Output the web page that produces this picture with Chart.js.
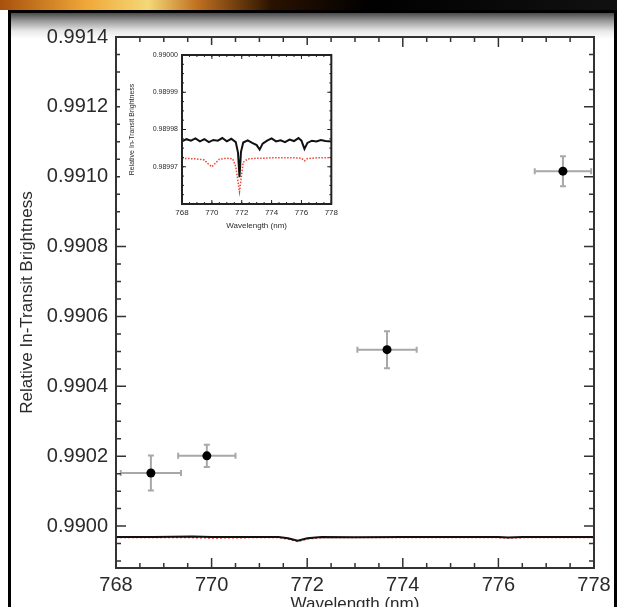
<!DOCTYPE html>
<html>
<head>
<meta charset="utf-8">
<script src="https://cdn.jsdelivr.net/npm/chart.js@4.4.1/dist/chart.umd.min.js"></script>
<style>
  html, body { margin: 0; padding: 0; width: 617px; height: 607px; overflow: hidden; background: #fff; }
  #banner { position: absolute; left: 0; top: 0; width: 617px; height: 10px;
    background: linear-gradient(90deg, #a8500c 0%, #f0a838 14%, #f4d878 24%, #c07020 32%, #2a1200 44%, #000 60%, #111 100%); }
  #frame { position: absolute; left: 8px; top: 10px; width: 603px; height: 620px; border: 3px solid #000;
    background: linear-gradient(180deg, #4a4a4a 0px, #9a9a9a 8px, #e8e8e8 18px, #fff 26px); }
  #main { position: absolute; left: 0; top: 0; }
  #inset { position: absolute; left: 120px; top: 45px; background: #fff; }
</style>
</head>
<body>
<div id="banner"></div>
<div id="frame"></div>
<canvas id="main" width="617" height="615"></canvas>
<canvas id="inset" width="222" height="186"></canvas>
<script>
// ============================================
// DATA - main panel
// ============================================
const xTickLabels = [768, 770, 772, 774, 776, 778];
const yTickLabels = [0.9900, 0.9902, 0.9904, 0.9906, 0.9908, 0.9910, 0.9912, 0.9914];

// observed in-transit brightness (binned)
const obsWave = [768.73, 769.90, 773.67, 777.35];
const obsWaveErr = [0.63, 0.60, 0.62, 0.59];
const obsFlux = [0.990152, 0.990201, 0.990505, 0.991016];
const obsFluxErr = [0.000050, 0.000032, 0.000053, 0.000043];

// model curves as seen on the main scale
const modelWave = [768.0, 768.8, 769.6, 770.0, 770.8, 771.4, 771.6, 771.8, 772.0, 772.3, 773.0, 774.0, 775.0, 776.0, 776.2, 776.5, 777.2, 778.0];
const modelBlack = [0.989969, 0.989969, 0.989970, 0.989969, 0.989969, 0.989969, 0.989965, 0.989958, 0.989965, 0.989969, 0.989968, 0.989969, 0.989969, 0.989969, 0.989967, 0.989969, 0.989969, 0.989969];
const modelRed = [0.989967, 0.989967, 0.989967, 0.989966, 0.989967, 0.989967, 0.989963, 0.989956, 0.989963, 0.989967, 0.989967, 0.989967, 0.989967, 0.989967, 0.989966, 0.989967, 0.989967, 0.989967];

// ============================================
// DATA - inset
// ============================================
const insetXTickLabels = [768, 770, 772, 774, 776, 778];
const insetYTickLabels = [0.98996, 0.98997, 0.98998, 0.98999, 0.99000];

const insetBlackWave = [768.0, 768.3, 768.6, 768.9, 769.2, 769.5, 769.8, 770.1, 770.4, 770.7, 771.0, 771.3, 771.6, 771.75, 771.85, 771.95, 772.1, 772.4, 772.7, 773.0, 773.2, 773.4, 773.7, 774.0, 774.3, 774.6, 774.9, 775.2, 775.5, 775.8, 776.0, 776.2, 776.4, 776.7, 777.0, 777.3, 777.6, 778.0];
const insetBlack = [0.9899768, 0.9899774, 0.9899770, 0.9899776, 0.9899768, 0.9899774, 0.9899766, 0.9899772, 0.9899770, 0.9899777, 0.9899768, 0.9899775, 0.9899766, 0.9899738, 0.9899672, 0.9899740, 0.9899765, 0.9899771, 0.9899764, 0.9899758, 0.9899746, 0.9899762, 0.9899770, 0.9899776, 0.9899768, 0.9899771, 0.9899766, 0.9899773, 0.9899769, 0.9899777, 0.9899770, 0.9899748, 0.9899764, 0.9899770, 0.9899768, 0.9899772, 0.9899769, 0.9899768];

const insetRedWave = [768.0, 768.5, 769.0, 769.5, 769.8, 770.0, 770.2, 770.5, 771.0, 771.4, 771.6, 771.75, 771.85, 771.95, 772.1, 772.4, 773.0, 773.5, 774.0, 774.5, 775.0, 775.5, 776.0, 776.2, 776.4, 777.0, 777.5, 778.0];
const insetRed = [0.9899722, 0.9899722, 0.9899721, 0.9899718, 0.9899706, 0.9899700, 0.9899708, 0.9899720, 0.9899723, 0.9899721, 0.9899700, 0.9899660, 0.9899633, 0.9899665, 0.9899712, 0.9899721, 0.9899723, 0.9899723, 0.9899724, 0.9899724, 0.9899724, 0.9899724, 0.9899723, 0.9899716, 0.9899722, 0.9899724, 0.9899724, 0.9899724];

const FONT = "'Liberation Sans', Arial, sans-serif";
const TEXT = '#2a2a2a';

function pairs(xs, ys) {
    return xs.map((v, i) => ({ x: v, y: ys[i] }));
}

function stepValues(from, to, step) {
    const out = [];
    const n = Math.round((to - from) / step);
    for (let i = 0; i <= n; i++) out.push(from + i * step);
    return out;
}

// ============================================
// PLUGINS
// ============================================
// IDL-style box with inward ticks on all four sides
const frameTicks = {
    id: 'frameTicks',
    afterDraw(chart, args, o) {
        const { ctx, chartArea: a, scales } = chart;
        const x = scales.x, y = scales.y;
        ctx.save();
        ctx.strokeStyle = o.color;
        ctx.lineWidth = o.tickWidth;
        ctx.beginPath();
        const vTick = (v, len) => {
            const px = x.getPixelForValue(v);
            ctx.moveTo(px, a.bottom); ctx.lineTo(px, a.bottom - len);
            ctx.moveTo(px, a.top); ctx.lineTo(px, a.top + len);
        };
        const hTick = (v, len) => {
            const py = y.getPixelForValue(v);
            ctx.moveTo(a.left, py); ctx.lineTo(a.left + len, py);
            ctx.moveTo(a.right, py); ctx.lineTo(a.right - len, py);
        };
        o.xMinor.forEach(v => vTick(v, o.minor));
        o.yMinor.forEach(v => { if (v >= y.min && v <= y.max) hTick(v, o.minor); });
        o.xMajor.forEach(v => vTick(v, o.major));
        o.yMajor.forEach(v => hTick(v, o.major));
        ctx.stroke();
        ctx.lineWidth = o.width;
        ctx.strokeRect(a.left, a.top, a.right - a.left, a.bottom - a.top);
        ctx.restore();
    }
};

// horizontal + vertical error bars for the observed points
const errorBars = {
    id: 'errorBars',
    beforeDatasetsDraw(chart) {
        const { ctx, scales: { x, y } } = chart;
        ctx.save();
        ctx.strokeStyle = '#a8a8a8';
        ctx.lineWidth = 2;
        ctx.beginPath();
        obsWave.forEach((w, i) => {
            const px = x.getPixelForValue(w);
            const py = y.getPixelForValue(obsFlux[i]);
            const x0 = x.getPixelForValue(w - obsWaveErr[i]);
            const x1 = x.getPixelForValue(w + obsWaveErr[i]);
            const y0 = y.getPixelForValue(obsFlux[i] - obsFluxErr[i]);
            const y1 = y.getPixelForValue(obsFlux[i] + obsFluxErr[i]);
            ctx.moveTo(x0, py); ctx.lineTo(x1, py);
            ctx.moveTo(px, y0); ctx.lineTo(px, y1);
            // caps
            ctx.moveTo(x0, py - 3); ctx.lineTo(x0, py + 3);
            ctx.moveTo(x1, py - 3); ctx.lineTo(x1, py + 3);
            ctx.moveTo(px - 3, y0); ctx.lineTo(px + 3, y0);
            ctx.moveTo(px - 3, y1); ctx.lineTo(px + 3, y1);
        });
        ctx.stroke();
        ctx.restore();
    }
};

// ============================================
// MAIN CHART
// ============================================
new Chart(document.getElementById('main'), {
    type: 'scatter',
    data: {
        datasets: [
            {
                label: 'Observed',
                data: pairs(obsWave, obsFlux),
                pointRadius: 4.5,
                pointBackgroundColor: '#000',
                pointBorderWidth: 0,
                showLine: false
            },
            {
                label: 'Model',
                data: pairs(modelWave, modelBlack),
                showLine: true,
                borderColor: '#111',
                borderWidth: 2,
                pointRadius: 0,
                tension: 0
            },
            {
                label: 'Model (alt)',
                data: pairs(modelWave, modelRed),
                showLine: true,
                borderColor: '#e23a2a',
                borderWidth: 1.5,
                borderDash: [2, 2],
                pointRadius: 0,
                tension: 0
            }
        ]
    },
    options: {
        responsive: false,
        animation: false,
        layout: { padding: { top: 37, right: 23, left: 0, bottom: 0 } },
        plugins: {
            legend: { display: false },
            tooltip: { enabled: false },
            frameTicks: {
                color: '#333', width: 2, tickWidth: 1.5, major: 10, minor: 5,
                xMajor: xTickLabels, yMajor: yTickLabels,
                xMinor: stepValues(768, 778, 0.5),
                yMinor: stepValues(0.98985, 0.9914, 0.00005)
            }
        },
        scales: {
            x: {
                type: 'linear',
                min: 768, max: 778,
                afterBuildTicks: s => { s.ticks = xTickLabels.map(v => ({ value: v })); },
                afterFit: s => { s.height = 47; },
                grid: { display: false, drawTicks: false },
                border: { display: false },
                ticks: { color: TEXT, padding: 5, maxRotation: 0, font: { family: FONT, size: 20 }, callback: v => String(v) },
                title: { display: true, text: 'Wavelength (nm)', color: TEXT, padding: { top: 0, bottom: 0 }, font: { family: FONT, size: 17 } }
            },
            y: {
                type: 'linear',
                min: 0.98988, max: 0.9914,
                afterBuildTicks: s => { s.ticks = yTickLabels.map(v => ({ value: v })); },
                afterFit: s => { s.width = 116; },
                grid: { display: false, drawTicks: false },
                border: { display: false },
                ticks: { color: TEXT, padding: 8, font: { family: FONT, size: 20 }, callback: v => Number(v).toFixed(4) },
                title: { display: true, text: 'Relative In-Transit Brightness', color: TEXT, padding: { top: 17, bottom: 0 }, font: { family: FONT, size: 17 } }
            }
        }
    },
    plugins: [errorBars, frameTicks]
});

// ============================================
// INSET CHART
// ============================================
new Chart(document.getElementById('inset'), {
    type: 'scatter',
    data: {
        datasets: [
            {
                label: 'Model',
                data: pairs(insetBlackWave, insetBlack),
                showLine: true,
                borderColor: '#111',
                borderWidth: 2,
                pointRadius: 0,
                tension: 0
            },
            {
                label: 'Model (alt)',
                data: pairs(insetRedWave, insetRed),
                showLine: true,
                borderColor: '#ee4433',
                borderWidth: 1.5,
                borderDash: [1.5, 1.5],
                pointRadius: 0,
                tension: 0
            }
        ]
    },
    options: {
        responsive: false,
        animation: false,
        layout: { padding: { top: 10, right: 10, left: 0, bottom: 0 } },
        plugins: {
            legend: { display: false },
            tooltip: { enabled: false },
            frameTicks: {
                color: '#222', width: 2, tickWidth: 1, major: 4, minor: 2,
                xMajor: insetXTickLabels, yMajor: insetYTickLabels,
                xMinor: stepValues(768, 778, 0.5),
                yMinor: stepValues(0.98996, 0.99000, 0.0000025)
            }
        },
        scales: {
            x: {
                type: 'linear',
                min: 768, max: 778,
                afterBuildTicks: s => { s.ticks = insetXTickLabels.map(v => ({ value: v })); },
                afterFit: s => { s.height = 27; },
                grid: { display: false, drawTicks: false },
                border: { display: false },
                ticks: { color: TEXT, padding: 4, maxRotation: 0, font: { family: FONT, size: 8 }, callback: v => String(v) },
                title: { display: true, text: 'Wavelength (nm)', color: TEXT, padding: { top: 0, bottom: 0 }, font: { family: FONT, size: 8 } }
            },
            y: {
                type: 'linear',
                min: 0.98996, max: 0.99000,
                afterBuildTicks: s => { s.ticks = insetYTickLabels.map(v => ({ value: v })); },
                afterFit: s => { s.width = 62; },
                grid: { display: false, drawTicks: false },
                border: { display: false },
                ticks: {
                    color: TEXT, padding: 4, font: { family: FONT, size: 7 },
                    callback: (v, i) => i === 0 ? '' : Number(v).toFixed(5)
                },
                title: { display: true, text: 'Relative In-Transit Brightness', color: TEXT, padding: { top: 8, bottom: 0 }, font: { family: FONT, size: 7 } }
            }
        }
    },
    plugins: [frameTicks]
});
</script>
</body>
</html>
